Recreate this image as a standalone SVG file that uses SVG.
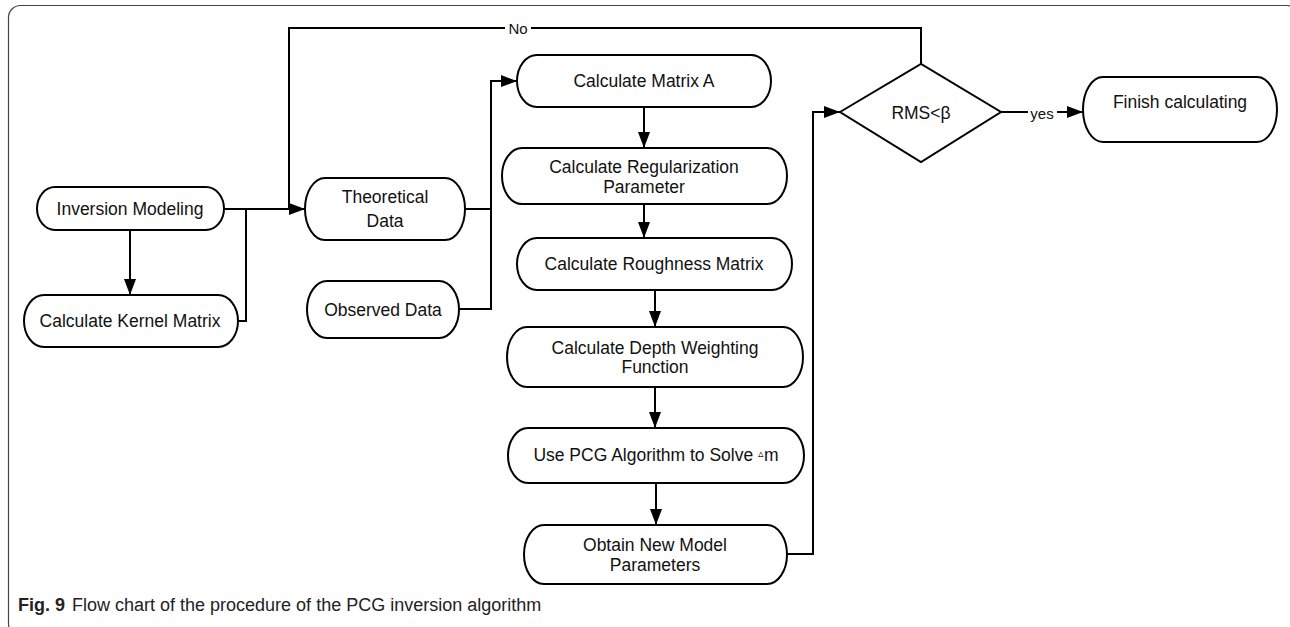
<svg xmlns="http://www.w3.org/2000/svg" width="1290" height="627" viewBox="0 0 1290 627">
<style>
.node{fill:#fff;stroke:#000;stroke-width:2}
.t{font-family:"Liberation Sans",Arial,sans-serif;font-size:17.5px;fill:#111;text-anchor:middle;dominant-baseline:central}
.lbl{font-family:"Liberation Sans",Arial,sans-serif;font-size:15px;fill:#111;text-anchor:middle;dominant-baseline:central}
.c{fill:none;stroke:#000;stroke-width:2}
.cap{font-family:"Liberation Sans",Arial,sans-serif;font-size:18px;fill:#222}
</style>
<defs>
<marker id="ah" markerUnits="userSpaceOnUse" markerWidth="16" markerHeight="12" refX="16" refY="6" orient="auto">
<path d="M0,0 L16,6 L0,12 z" fill="#000"/>
</marker>
</defs>
<rect x="8.5" y="5.5" width="1290" height="630" rx="12" fill="none" stroke="#444" stroke-width="1.2"/>
<g id="connectors">
<path class="c" d="M130,230 V295" marker-end="url(#ah)"/>
<path class="c" d="M224,209 H305" marker-end="url(#ah)"/>
<path class="c" d="M238,321 H246 V209"/>
<path class="c" d="M921,64 V28 H531"/>
<path class="c" d="M505,28 H289 V209"/>
<path class="c" d="M465,209 H491 V81 H517" marker-end="url(#ah)"/>
<path class="c" d="M459,309 H491 V209"/>
<path class="c" d="M644,107 V148" marker-end="url(#ah)"/>
<path class="c" d="M644,204 V238" marker-end="url(#ah)"/>
<path class="c" d="M655,290 V327" marker-end="url(#ah)"/>
<path class="c" d="M655,387 V428" marker-end="url(#ah)"/>
<path class="c" d="M656,483 V525" marker-end="url(#ah)"/>
<path class="c" d="M787,554 H813 V112 H840" marker-end="url(#ah)"/>
<path class="c" d="M1001,112 H1028"/>
<path class="c" d="M1057,112 H1083" marker-end="url(#ah)"/>
<text class="lbl" x="518" y="28">No</text>
<text class="lbl" x="1042" y="113">yes</text>
</g>
<g id="inversion"><rect class="node" x="37" y="187" width="187" height="43" rx="18" ry="21.5"/><text class="t" x="130" y="209">Inversion Modeling</text></g>
<g id="kernel"><rect class="node" x="24" y="295" width="214" height="52" rx="20" ry="26"/><text class="t" x="130" y="321">Calculate Kernel Matrix</text></g>
<g id="theoretical"><rect class="node" x="305" y="178" width="160" height="62" rx="20" ry="31"/><text class="t" x="385" y="197">Theoretical</text><text class="t" x="385" y="221">Data</text></g>
<g id="observed"><rect class="node" x="307" y="281" width="152" height="57" rx="20" ry="28.5"/><text class="t" x="383" y="310">Observed Data</text></g>
<g id="matrixA"><rect class="node" x="517" y="55" width="254" height="52" rx="20" ry="26"/><text class="t" x="644" y="81">Calculate Matrix A</text></g>
<g id="regularization"><rect class="node" x="502" y="148" width="285" height="56" rx="20" ry="28"/><text class="t" x="644" y="167">Calculate Regularization</text><text class="t" x="644" y="187">Parameter</text></g>
<g id="roughness"><rect class="node" x="517" y="238" width="275" height="52" rx="20" ry="26"/><text class="t" x="654" y="264">Calculate Roughness Matrix</text></g>
<g id="depth"><rect class="node" x="507" y="327" width="296" height="60" rx="20" ry="30"/><text class="t" x="655" y="348">Calculate Depth Weighting</text><text class="t" x="655" y="367">Function</text></g>
<g id="pcg"><rect class="node" x="508" y="428" width="296" height="55" rx="20" ry="27.5"/><text class="t" x="656" y="455">Use PCG Algorithm to Solve <tspan font-size="11" dy="-2">▵</tspan><tspan dy="2">m</tspan></text></g>
<g id="obtain"><rect class="node" x="524" y="525" width="263" height="59" rx="20" ry="29.5"/><text class="t" x="655" y="545">Obtain New Model</text><text class="t" x="655" y="565">Parameters</text></g>
<g id="decision"><polygon class="node" points="840,112 921,64 1001,112 921,162"/><text class="t" x="921" y="113">RMS&lt;β</text></g>
<g id="finish"><rect class="node" x="1083" y="77" width="194" height="65" rx="20" ry="32.5"/><text class="t" x="1180" y="102">Finish calculating</text></g>
<text class="cap" x="18" y="611" font-weight="bold">Fig. 9</text>
<text class="cap" x="72" y="611">Flow chart of the procedure of the PCG inversion algorithm</text>
</svg>
